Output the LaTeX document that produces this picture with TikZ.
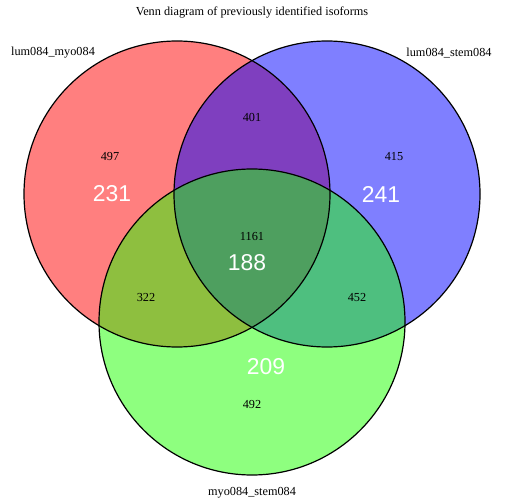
\documentclass[tikz,border=0pt]{standalone}
\usepackage{fontspec}
\setmainfont{Liberation Serif}
\newfontfamily\bigsans{Liberation Sans}
\definecolor{setgreen}{RGB}{30,255,0}
\begin{document}
\begin{tikzpicture}[x=1bp,y=-1bp,
  setfill/.style={fill opacity=0.5},
  setedge/.style={draw=black,line width=1.2bp},
  small/.style={font=\fontsize{12.3}{14}\selectfont,text=black,inner sep=0},
  big/.style={font=\bigsans\fontsize{23}{26}\selectfont,text=white,inner sep=0}]
\useasboundingbox (0,0) rectangle (504,504);
\fill[white] (0,0) rectangle (504,504);
\coordinate (cr) at (177,194);
\coordinate (cb) at (327,194);
\coordinate (cg) at (252,322);
\fill[setfill,red] (cr) circle[radius=153];
\fill[setfill,blue] (cb) circle[radius=153];
\fill[setfill,setgreen] (cg) circle[radius=153];
\draw[setedge] (cr) circle[radius=153];
\draw[setedge] (cb) circle[radius=153];
\draw[setedge] (cg) circle[radius=153];
\node[small] (title) at (252,13) {Venn diagram of previously identified isoforms};
\node[small] (lr) at (53,53) {lum084\_myo084};
\node[small] (lb) at (449,53) {lum084\_stem084};
\node[small] (lg) at (252,493) {myo084\_stem084};
\node[small] (a1) at (110,157) {497};
\node[big] (b1) at (112,194) {231};
\node[small] (a2) at (252,117) {401};
\node[small] (a3) at (394,157) {415};
\node[big] (b3) at (381,194) {241};
\node[small] (a4) at (252,237) {1161};
\node[big] (b4) at (247,263) {188};
\node[small] (a5) at (146,298) {322};
\node[small] (a6) at (357,298) {452};
\node[big] (b7) at (266,367) {209};
\node[small] (a7) at (252,404) {492};
\end{tikzpicture}
\end{document}
